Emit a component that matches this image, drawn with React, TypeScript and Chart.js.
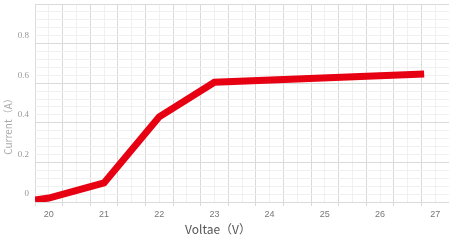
import React, { useEffect, useRef } from "react";
import { Chart, registerables } from "chart.js";

Chart.register(...registerables);

// Data
const voltage = [19.75, 20, 21, 22, 23, 26.8];
const current = [-0.03, -0.02, 0.056, 0.39, 0.565, 0.606];

// Axis labels
const xTickLabels = [20, 21, 22, 23, 24, 25, 26, 27];
const yTickLabels = [0, 0.2, 0.4, 0.6, 0.8];
const xTitle = "Voltae（V）";
const yTitle = "Current（A）";

// Axis ranges and grid steps
const xMin = 19.75;
const xMax = 27.25;
const xGridStep = 0.25;
const yMin = -0.04;
const yMax = 0.96;
const yGridStep = 0.04;

const titlePlugin = {
  id: "axisTitles",
  afterDraw(chart: any) {
    const ctx = chart.ctx;
    ctx.save();
    ctx.textAlign = "center";
    ctx.textBaseline = "middle";
    ctx.fillStyle = "#555";
    ctx.font = "12px 'Noto Sans CJK SC'";
    ctx.fillText(xTitle, 218, 229);
    ctx.translate(8, 124);
    ctx.rotate(-Math.PI / 2);
    ctx.fillStyle = "#aaa";
    ctx.font = "10px 'Noto Sans CJK SC'";
    ctx.fillText(yTitle, 0, 0);
    ctx.restore();
  },
};

export default function App() {
  const ref = useRef<HTMLCanvasElement | null>(null);

  useEffect(() => {
    if (!ref.current) return;
    const xCount = Math.round((xMax - xMin) / xGridStep);
    const yCount = Math.round((yMax - yMin) / yGridStep);
    const major = "#dadada";
    const minor = "#f0f0f0";

    const chart = new Chart(ref.current, {
      type: "line",
      data: {
        datasets: [
          {
            data: voltage.map((v, i) => ({ x: v, y: current[i] })),
            borderColor: "#e60012",
            backgroundColor: "#e60012",
            borderWidth: 7,
            pointRadius: 0,
            tension: 0,
            borderJoinStyle: "miter",
            borderCapStyle: "butt",
          },
        ],
      },
      plugins: [titlePlugin],
      options: {
        responsive: false,
        animation: false,
        layout: { padding: { top: 4, right: 0, left: 0, bottom: 0 } },
        plugins: { legend: { display: false }, tooltip: { enabled: false } },
        scales: {
          x: {
            type: "linear",
            min: xMin,
            max: xMax,
            afterBuildTicks: (scale: any) => {
              const t = [];
              for (let k = 0; k <= xCount; k++) t.push({ value: xMin + k * xGridStep });
              scale.ticks = t;
            },
            afterFit: (scale: any) => {
              scale.height = 39;
              scale.paddingLeft = 0;
              scale.paddingRight = 0;
            },
            border: { display: false },
            grid: {
              color: (ctx: any) => (ctx.index % 2 === 0 ? major : minor),
              tickColor: (ctx: any) => (ctx.index % 2 === 0 ? major : "rgba(0,0,0,0)"),
              tickLength: 4,
              lineWidth: 1,
            },
            ticks: {
              autoSkip: false,
              maxRotation: 0,
              padding: 3,
              color: "#777",
              font: { size: 9, family: "Liberation Sans" },
              callback: (value: any) => {
                const v = Number(value);
                const hit = xTickLabels.find((l) => Math.abs(l - v) < 1e-6);
                return hit !== undefined ? String(hit) : "";
              },
            },
          },
          y: {
            type: "linear",
            min: yMin,
            max: yMax,
            afterBuildTicks: (scale: any) => {
              const t = [];
              for (let k = 0; k <= yCount; k++) t.push({ value: yMin + k * yGridStep });
              scale.ticks = t;
            },
            afterFit: (scale: any) => {
              scale.width = 35;
              scale.paddingTop = 0;
              scale.paddingBottom = 0;
            },
            border: { display: false },
            grid: {
              color: (ctx: any) => (ctx.index % 5 === 0 ? major : minor),
              drawTicks: false,
              lineWidth: 1,
            },
            ticks: {
              autoSkip: false,
              padding: 6,
              color: "#999",
              font: { size: 9, family: "Liberation Serif" },
              callback: (value: any) => {
                const v = Number(value);
                const hit = yTickLabels.find((l) => Math.abs(l - v) < 1e-6);
                return hit !== undefined ? (hit === 0 ? "0" : hit.toFixed(1)) : "";
              },
            },
          },
        },
      },
    });
    return () => chart.destroy();
  }, []);

  return (
    <div style={{ position: "absolute", left: 0, top: 0, width: 449, height: 241, background: "#fff" }}>
      <canvas ref={ref} width={449} height={241} style={{ display: "block", width: 449, height: 241 }} />
    </div>
  );
}
